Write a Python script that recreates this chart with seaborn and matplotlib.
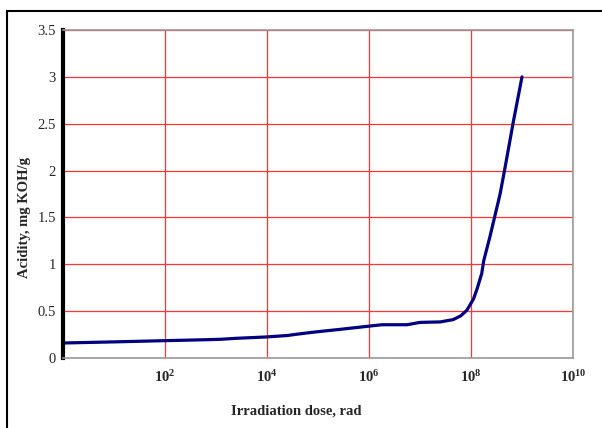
import matplotlib
matplotlib.use("Agg")
from matplotlib import pyplot as plt
from matplotlib.patches import Rectangle
import numpy as np
import pandas as pd
import seaborn as sns

# dose (rad) and acidity (mg KOH/g)
dose = [1, 10, 100, 6.3e2, 1.26e3, 2.5e3, 1e4, 2.5e4, 4e4, 8e4, 3.2e5, 1e6,
        1.8e6, 5.6e6, 1e7, 2.5e7, 4.5e7, 6.3e7, 8.3e7, 1.12e8, 1.32e8,
        1.62e8, 1.78e8, 2.34e8, 2.95e8, 3.72e8, 4.68e8, 6.76e8, 1e9]
acidity = [0.16, 0.172, 0.185, 0.195, 0.20, 0.21, 0.225, 0.24, 0.255, 0.275,
           0.31, 0.34, 0.355, 0.355, 0.38, 0.385, 0.41, 0.45, 0.51, 0.63,
           0.74, 0.90, 1.04, 1.29, 1.52, 1.75, 2.04, 2.52, 3.0]

x_ticks = [1e2, 1e4, 1e6, 1e8, 1e10]
x_labels = [r"$\mathbf{10^{2}}$", r"$\mathbf{10^{4}}$", r"$\mathbf{10^{6}}$",
            r"$\mathbf{10^{8}}$", r"$\mathbf{10^{10}}$"]
y_ticks = [0, 0.5, 1, 1.5, 2, 2.5, 3, 3.5]
y_labels = ["0", "0.5", "1", "1.5", "2", "2.5", "3", "3.5"]

df = pd.DataFrame({"dose": dose, "acidity": acidity})

sns.set_style("white")
plt.rcParams["font.family"] = ["Liberation Serif", "DejaVu Serif"]
plt.rcParams["mathtext.fontset"] = "custom"
plt.rcParams["mathtext.rm"] = "Liberation Serif"
plt.rcParams["mathtext.bf"] = "Liberation Serif:bold"

fig = plt.figure(figsize=(6.02, 4.28), dpi=100)
ax = fig.add_axes([63 / 602, 1 - 358 / 428, 510 / 602, 328 / 428])

sns.lineplot(data=df, x="dose", y="acidity", color="#000080", lw=2.3, ax=ax)

ax.set_xscale("log")
ax.set_xlim(1, 1e10)
ax.set_ylim(0, 3.5)
ax.set_xticks(x_ticks)
ax.set_xticklabels(x_labels, fontsize=10.5)
ax.xaxis.set_minor_locator(matplotlib.ticker.NullLocator())
ax.set_yticks(y_ticks)
ax.set_yticklabels(y_labels, fontsize=10.5)

ax.grid(True, color="#ff3535", lw=0.9)
ax.set_axisbelow(True)
ax.tick_params(axis="x", length=0, pad=8)
ax.tick_params(axis="y", length=3, width=2, color="black", pad=2)

for side in ["top", "right", "bottom"]:
    ax.spines[side].set_color("#999999")
    ax.spines[side].set_linewidth(1.2)
ax.spines["left"].set_color("black")
ax.spines["left"].set_linewidth(3)

ax.set_xlabel("Irradiation dose, rad", fontsize=10.5, fontweight="bold")
ax.set_ylabel("Acidity, mg KOH/g", fontsize=10.5, fontweight="bold")
ax.xaxis.set_label_coords(0.457, -0.142)
ax.yaxis.set_label_coords(-0.062, 0.427)

# outer chart frame (cut off at right and bottom)
fig.patches.append(Rectangle((7 / 602, -0.1), 2, 1 - 11 / 428 + 0.1,
                             transform=fig.transFigure, fill=False,
                             ec="black", lw=1.5))

plt.savefig("out.png", dpi=100)
